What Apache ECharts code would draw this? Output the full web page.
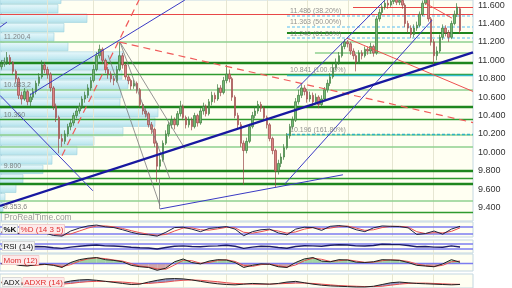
<!DOCTYPE html>
<html><head><meta charset="utf-8">
<script src="https://cdn.jsdelivr.net/npm/echarts@6/dist/echarts.min.js"></script>
<style>html,body{margin:0;padding:0;background:#fff}#c{width:512px;height:288px}</style>
</head><body><div id="c"></div>
<script>
// ---------- price data (daily candles) ----------
const opens = [10930,10960,10980,11030,10980,10880,10800,10620,10580,10660,
 10550,10600,10660,10750,10820,10950,10900,10850,10700,10500,
 10380,10150,10120,10200,10280,10320,10400,10450,10500,10580,
 10620,10700,10780,10900,11050,11120,11000,10900,10850,10800,
 10780,10900,11050,10950,10820,10780,10720,10750,10680,10520,
 10450,10420,10300,10250,10100,9850,9920,10100,10200,10300,
 10350,10300,10420,10500,10380,10300,10350,10280,10400,10320,
 10450,10500,10420,10550,10620,10580,10700,10650,10780,10850,
 10800,10600,10400,10300,10100,10020,10120,10280,10400,10450,
 10520,10480,10380,10300,10150,10020,9800,9880,9950,10050,
 10180,10280,10350,10550,10620,10700,10660,10580,10620,10550,
 10600,10520,10580,10680,10750,10820,10920,10980,11050,11150,
 11200,11180,11100,11050,10980,11080,11050,11120,11100,11150,
 11080,11450,11520,11580,11620,11600,11640,11660,11630,11650,
 11600,11400,11350,11280,11350,11380,11500,11620,11680,11450,
 11200,11050,11100,11250,11350,11300,11250,11400,11500,11560];
const closes = [10960,10980,11030,10980,10880,10800,10620,10580,10660,10550,
 10600,10660,10750,10820,10950,10900,10850,10700,10500,10380,
 10150,10120,10200,10280,10320,10400,10450,10500,10580,10620,
 10700,10780,10900,11050,11120,11000,10900,10850,10800,10780,
 10900,11050,10950,10820,10780,10720,10750,10680,10520,10450,
 10420,10300,10250,10100,9850,9920,10100,10200,10300,10350,
 10300,10420,10500,10380,10300,10350,10280,10400,10320,10450,
 10500,10420,10550,10620,10580,10700,10650,10780,10850,10800,
 10600,10400,10300,10100,10020,10120,10280,10400,10450,10520,
 10480,10380,10300,10150,10020,9800,9880,9950,10050,10180,
 10280,10350,10550,10620,10700,10660,10580,10620,10550,10600,
 10520,10580,10680,10750,10820,10920,10980,11050,11150,11200,
 11180,11100,11050,10980,11080,11050,11120,11100,11150,11080,
 11450,11520,11580,11620,11600,11640,11660,11630,11650,11600,
 11400,11350,11280,11350,11380,11500,11620,11680,11450,11200,
 11050,11100,11250,11350,11300,11250,11400,11500,11580,11322.3];
const lows = [10900,10930,10950,10950,10850,10760,10580,10520,10560,10510,
 10500,10570,10630,10720,10800,10860,10800,10660,10460,10330,
 9990,10060,10090,10170,10240,10290,10370,10420,10470,10540,
 10590,10670,10760,10880,11020,10960,10860,10800,10760,10730,
 10760,10880,10910,10790,10740,10680,10690,10640,10490,10410,
 10380,10270,10200,10060,9680,9800,9900,10080,10170,10260,
 10250,10280,10390,10350,10260,10270,10240,10260,10280,10300,
 10410,10390,10400,10510,10540,10560,10610,10630,10750,10760,
 10560,10370,10250,10060,9650,9990,10100,10260,10370,10420,
 10440,10350,10260,10120,9980,9620,9760,9840,9920,10030,
 10150,10250,10330,10520,10590,10620,10540,10550,10500,10520,
 10480,10500,10560,10650,10720,10800,10890,10950,11030,11120,
 11140,11060,11010,10880,10960,11010,11030,11060,11070,11040,
 11060,11420,11490,11550,11560,11580,11610,11600,11600,11560,
 11360,11300,11240,11250,11320,11360,11480,11600,11420,11160,
 10950,11000,11080,11220,11260,11200,11230,11380,11470,11290];
const highs = [11000,11030,11090,11060,10990,10900,10820,10660,10700,10680,
 10640,10700,10780,10860,11000,10980,10930,10870,10720,10530,
 10400,10200,10240,10310,10360,10430,10490,10540,10610,10660,
 10740,10820,10950,11090,11170,11140,11020,10930,10880,10830,
 10940,11200,11080,10970,10850,10800,10790,10770,10700,10540,
 10480,10440,10330,10270,10120,9980,10130,10240,10330,10400,
 10380,10450,10560,10520,10400,10390,10380,10430,10420,10480,
 10540,10520,10580,10660,10650,10740,10730,10820,10950,10900,
 10820,10620,10430,10330,10130,10160,10310,10440,10500,10560,
 10550,10500,10400,10320,10170,10040,9920,9990,10090,10210,
 10310,10390,10590,10680,10740,10730,10690,10660,10650,10640,
 10620,10620,10710,10790,10860,10960,11020,11090,11190,11230,
 11220,11200,11130,11070,11110,11110,11150,11150,11190,11170,
 11480,11560,11610,11650,11660,11680,11700,11700,11690,11680,
 11620,11430,11380,11390,11420,11530,11650,11720,11700,11470,
 11230,11150,11280,11390,11380,11330,11430,11540,11620,11580];
const lastPrice = 11322.3;
const lastPriceText = '11.322,30';
const priceTicks = [9400,9600,9800,10000,10200,10400,10600,10800,11000,11200,11400,11600];

// ---------- volume by price ----------
const profileStart = 9353.6;
const profileStep = 102.6;
const profileVolumes = [3,5,16,23,43,52,77,94,123,155,158,120,121,128,122,120,123,68,54,64,87,58,61];

// ---------- horizontal levels ----------
const darkLevels = [10978, 10499, 9800, 9659];
const mediumLevels = [10848, 10360, 9724, 9353.6];
const lightLevels = [11200.4, 10683, 10190, 10062, 9473];
const levelLabels = [[11200.4,'11.200,4'],[10683,'10.683,2'],[10360,'10.360'],[9800,'9.800'],[9353.6,'9.353,6']];
const darkPartial = [[99, 11295]];
const lightPartial = [[108.7, 11077]];
const redLevels = [11502];
const redPartial = [[121.9, 11578]];
const fibStart = 99;
const fibDashed = [11486, 11363, 11240];
const fibMain = [10841];
const fibExt = [10196];
const fibLabels = [[11486,'11.486 (38.20%)'],[11363,'11.363 (50.00%)'],[11240,'11.240 (61.80%)'],[10841,'10.841 (100.00%)'],[10196,'10.196 (161.80%)']];

// ---------- drawn trend lines: [candle index, price] ----------
const blueThick = [[[-0.5, 9419], [163.5, 11087]]];
const blueThin = [
  [[9.9, 10625], [63.6, 11655]],
  [[-0.5, 10619], [31.7, 9583]],
  [[55.0, 9386], [118.4, 9757]],
  [[98.3, 9659], [149.3, 11436]],
  [[102.5, 10695], [133.0, 11655]],
  [[-0.5, 11360], [1.9, 11415]]
];
const redDashed = [
  [[41.1, 11197], [163.5, 10324]],
  [[21.0, 9964], [47.7, 11655]]
];
const redSolid = [
  [[119.8, 11240], [163.5, 10662]],
  [[146.9, 11622], [156.2, 11458]]
];
const grayLines = [
  [[41.1, 11197], [58.4, 9714]],
  [[41.1, 11197], [63.6, 10041]],
  [[37.0, 11055], [55.0, 9419]],
  [[54.6, 9714], [54.6, 9386]]
];
const monthStarts = [15.8, 31.7, 47.4, 63, 77.9, 92.1, 106, 120.2, 135.4, 149.6];

// ---------- indicators (one value every 3 candles) ----------
const indStep = 3;
const kVals = [35,30,25,28,35,30,10,5,45,68,85,92,78,72,55,35,20,15,5,35,72,75,60,40,65,72,80,60,8,40,55,60,30,15,60,75,72,50,82,88,80,55,40,70,85,82,80,70,18,25,45,20,60,82.171];
const dVals = [38,33,28,27,30,31,22,12,22,45,68,85,85,78,65,48,32,20,12,18,45,68,70,55,52,62,74,70,35,28,40,55,45,28,38,60,72,62,68,80,84,68,50,55,72,82,82,76,40,25,32,30,42,70];
const rsiVals = [55,52,45,44,50,48,40,35,45,52,58,62,55,54,50,44,40,38,30,42,52,55,50,48,53,55,60,52,35,45,52,50,42,36,50,56,55,52,60,64,62,55,54,58,68,66,65,58,48,50,45,44,55,45.889];
const momVals = [-100,50,-300,-400,-200,-150,-300,-600,100,500,700,800,500,400,200,-300,-500,-600,-1000,-700,200,600,100,-100,300,500,450,100,-600,-300,-100,-150,-500,-600,100,600,800,300,200,500,450,150,100,200,500,450,400,100,-300,-400,-500,-100,500,142];
const momSig = [-50,0,-150,-330,-300,-180,-220,-480,-200,300,600,750,650,450,300,-50,-400,-550,-800,-850,-250,400,350,0,100,400,480,250,-300,-450,-200,-120,-350,-550,-250,350,700,550,250,350,480,300,120,150,350,480,420,250,-100,-350,-450,-300,200,300];
const adxVals = [20,19,17,15,14,13,15,20,25,28,29,27,24,21,18,15,16,22,27,31,32,31,28,24,20,17,15,14,16,18,17,16,18,22,24,20,16,13,11,10,9,8,8,10,15,20,22,20,18,17,16,15,14,15.17];
const adxrVals = [22,21,20,19,17,16,15,16,18,21,23,24,24,23,22,20,18,18,20,22,25,27,28,27,25,23,20,18,17,16,16,16,17,18,19,19,18,16,14,12,11,10,9,9,10,13,16,18,19,19,18,17,16,15.5];

// ---------- build ----------
const XMIN = -0.5, XMAX = 163.5, NCAT = 164;
const cats = Array.from({length: NCAT}, (_, i) => String(i));
const candleData = opens.map((o, i) => [o, closes[i], lows[i], highs[i]]);
const fmtPrice = v => Math.floor(v / 1000) + '.' + String(Math.round(v % 1000)).padStart(3, '0');
const toXY = arr => arr.map((v, k) => [k * indStep, v]);
const hl = (levels) => levels.map(v => ({coords: [[XMIN, v], [XMAX, v]]}));
const hlp = (parts) => parts.map(p => ({coords: [[p[0], p[1]], [XMAX, p[1]]]}));
const segs = (arr) => arr.map(p => ({coords: p}));
const FONT = 'Liberation Sans, Arial, sans-serif';

function lines(data, lineStyle, xi, yi, z) {
  return {type: 'lines', coordinateSystem: 'cartesian2d', xAxisIndex: xi, yAxisIndex: yi,
    polyline: false, silent: true, z: z, data: data, symbol: 'none',
    lineStyle: Object.assign({opacity: 1, curveness: 0}, lineStyle)};
}
function vlines(xi, yi, lo, hi) {
  return lines(monthStarts.map(m => ({coords: [[m, lo], [m, hi]]})), {color: '#e6e6d2', width: 1}, xi, yi, 1);
}
function signFill(vals, base, pos, neg) {
  return (params, api) => {
    const k = params.dataIndex;
    if (k >= vals.length - 1) return null;
    const a = vals[k], b = vals[k + 1];
    const ra = base ? base[k] : 0, rb = base ? base[k + 1] : 0;
    const da = a - ra, db = b - rb;
    const x0 = k * indStep, x1 = (k + 1) * indStep;
    const P = (x, v) => api.coord([x, v]);
    if (da * db >= 0) {
      return {type: 'polygon', shape: {points: [P(x0, a), P(x1, b), P(x1, rb), P(x0, ra)]},
        style: {fill: (da + db) >= 0 ? pos : neg}};
    }
    const t = da / (da - db);
    const xc = x0 + t * (x1 - x0), vc = a + t * (b - a);
    return {type: 'group', children: [
      {type: 'polygon', shape: {points: [P(x0, a), P(xc, vc), P(x0, ra)]}, style: {fill: da > 0 ? pos : neg}},
      {type: 'polygon', shape: {points: [P(xc, vc), P(x1, b), P(x1, rb)]}, style: {fill: db > 0 ? pos : neg}}
    ]};
  };
}
function textPoints(items, x, color, size, xi, yi) {
  return {type: 'scatter', xAxisIndex: xi, yAxisIndex: yi, symbolSize: 0.1, silent: true, z: 6,
    itemStyle: {color: 'transparent'},
    data: items.map(it => ({value: [x, it[0]], name: it[1]})),
    label: {show: true, formatter: '{b}', position: [0, -size - 1], color: color, fontSize: size, fontFamily: FONT}};
}
function valueLabel(v, text, color, bg, border, vAlign) {
  return {silent: true, symbol: 'none', lineStyle: {opacity: 0},
    label: {position: 'end', distance: 4, formatter: text, color: color, backgroundColor: bg,
      borderColor: border, borderWidth: 0.8, padding: [1, 2, 0, 2], fontSize: 9, fontFamily: FONT,
      verticalAlign: vAlign || 'middle'},
    data: [{yAxis: v}]};
}
const richK = {fill: '#111', fontSize: 8, fontFamily: FONT, backgroundColor: '#f5f5f5', borderColor: '#bbb', borderWidth: 0.5, padding: [1, 1, 0, 1]};
const richD = {fill: '#e03030', fontSize: 8, fontFamily: FONT, backgroundColor: '#fdeaea', borderColor: '#e6b0b0', borderWidth: 0.5, padding: [1, 1, 0, 1]};
const richS = {fill: '#fff', fontSize: 8, fontFamily: FONT};

const profileGrad = new echarts.graphic.LinearGradient(0, 0, 0, 1, [
  {offset: 0, color: '#eaf9fc'}, {offset: 1, color: '#b4e3ec'}]);

const gridBase = {left: 0, right: 39, show: true, backgroundColor: '#fffff2', borderColor: '#c3d7e1', borderWidth: 1};
const option = {
  animation: false,
  backgroundColor: '#ffffff',
  grid: [
    Object.assign({top: 0, height: 221}, gridBase),
    Object.assign({top: 222, height: 15}, gridBase),
    Object.assign({top: 240, height: 13}, gridBase),
    Object.assign({top: 254, height: 17}, gridBase),
    Object.assign({top: 274, height: 14}, gridBase)
  ],
  xAxis: [
    {type: 'category', gridIndex: 0, data: cats, show: false, boundaryGap: true},
    {type: 'value', gridIndex: 0, min: XMIN, max: XMAX, show: false},
    {type: 'value', gridIndex: 0, min: 0, max: 473, show: false},
    {type: 'value', gridIndex: 1, min: XMIN, max: XMAX, show: false},
    {type: 'value', gridIndex: 2, min: XMIN, max: XMAX, show: false},
    {type: 'value', gridIndex: 3, min: XMIN, max: XMAX, show: false},
    {type: 'value', gridIndex: 4, min: XMIN, max: XMAX, show: false}
  ],
  yAxis: [
    {type: 'value', gridIndex: 0, position: 'right', min: 9255, max: 11655, scale: true,
      axisLine: {show: true, lineStyle: {color: '#b9d3df'}},
      axisTick: {show: true, customValues: priceTicks, length: 3, lineStyle: {color: '#555'}},
      axisLabel: {customValues: priceTicks, formatter: fmtPrice, color: '#333', fontSize: 9, fontFamily: FONT, margin: 5},
      splitLine: {show: false}},
    {type: 'value', gridIndex: 1, min: -2, max: 116, show: false, splitLine: {show: false}},
    {type: 'value', gridIndex: 2, min: -2, max: 102, show: false, splitLine: {show: false}},
    {type: 'value', gridIndex: 3, min: -1100, max: 1300, show: false, splitLine: {show: false}},
    {type: 'value', gridIndex: 4, min: 5, max: 45, show: false, splitLine: {show: false}}
  ],
  series: [
    // volume profile
    {type: 'custom', xAxisIndex: 2, yAxisIndex: 0, z: 1, silent: true, clip: true,
      data: profileVolumes.map((v, k) => [v, profileStart + k * profileStep, profileStart + (k + 1) * profileStep]),
      encode: {x: 0, y: [1, 2]},
      renderItem: (params, api) => {
        const a = api.coord([0, api.value(2)]), b = api.coord([api.value(0), api.value(1)]);
        return {type: 'rect', shape: {x: a[0], y: a[1] + 0.5, width: b[0] - a[0], height: Math.max(1, b[1] - a[1] - 1)},
          style: {fill: profileGrad, stroke: '#9dd2dd', lineWidth: 0.6}};
      }},
    vlines(1, 0, 9255, 11655),
    lines(hl(lightLevels), {color: '#8fd08f', width: 1.6}, 1, 0, 2),
    lines(hlp(lightPartial), {color: '#8fd08f', width: 1.6}, 1, 0, 2),
    lines(hl(mediumLevels), {color: '#2f9a2f', width: 1.4}, 1, 0, 2),
    lines(hl(darkLevels), {color: '#1e861e', width: 2.3}, 1, 0, 2),
    lines(hlp(darkPartial), {color: '#1e861e', width: 1.8}, 1, 0, 2),
    lines(hl(redLevels), {color: '#e84848', width: 1.2}, 1, 0, 2),
    lines(hlp(redPartial), {color: '#e84848', width: 1.2}, 1, 0, 2),
    lines(fibDashed.map(v => ({coords: [[fibStart, v], [XMAX, v]]})), {color: '#8fd4f2', width: 1.5, type: [3, 2]}, 1, 0, 2),
    lines(fibMain.map(v => ({coords: [[fibStart, v], [XMAX, v]]})), {color: '#33bccb', width: 1.3}, 1, 0, 2),
    lines(fibExt.map(v => ({coords: [[fibStart, v], [XMAX, v]]})), {color: '#2fb3c3', width: 1.4, type: [3, 2]}, 1, 0, 2),
    // candles
    {type: 'candlestick', xAxisIndex: 0, yAxisIndex: 0, z: 3, barWidth: 2, data: candleData,
      itemStyle: {color: '#74bb74', color0: '#dc8484', borderColor: '#3c7a3c', borderColor0: '#9a4848', borderWidth: 0.7},
      markLine: valueLabel(lastPrice, lastPriceText, '#000', '#fbc400', '#c99a00')},
    // trend lines
    lines(segs(grayLines), {color: '#7a7a7a', width: 0.8}, 1, 0, 4),
    lines(segs(redSolid), {color: '#ee5050', width: 1}, 1, 0, 4),
    lines(segs(redDashed), {color: '#f05a5a', width: 1.2, type: [7, 5]}, 1, 0, 4),
    lines(segs(blueThin), {color: '#3a3ac4', width: 1}, 1, 0, 4),
    lines(segs(blueThick), {color: '#1818a0', width: 2.4}, 1, 0, 4),
    textPoints(fibLabels, 100.1, '#777', 7, 1, 0),
    textPoints(levelLabels, 0.8, '#666', 7, 1, 0),

    // %K %D
    vlines(3, 1, -2, 116),
    lines(hl([80, 20]), {color: '#7c7cf0', width: 1.5}, 3, 1, 2),
    {type: 'line', xAxisIndex: 3, yAxisIndex: 1, data: toXY(dVals), symbol: 'none', z: 3, lineStyle: {color: '#e85050', width: 1}},
    {type: 'line', xAxisIndex: 3, yAxisIndex: 1, data: toXY(kVals), symbol: 'none', z: 4, lineStyle: {color: '#222244', width: 1},
      markLine: valueLabel(82.171, '82,171', '#e03030', '#fff4f4', '#e0a0a0', 'top')},
    // RSI
    vlines(4, 2, -2, 102),
    lines(hl([70, 30]), {color: '#7c7cf0', width: 1.5}, 4, 2, 2),
    {type: 'line', xAxisIndex: 4, yAxisIndex: 2, data: toXY(rsiVals), symbol: 'none', z: 4, lineStyle: {color: '#1a1a66', width: 1.3},
      markLine: valueLabel(45.889, '45,889', '#111', '#fafafa', '#aaa')},
    // Momentum
    vlines(5, 3, -1100, 1300),
    {type: 'custom', xAxisIndex: 5, yAxisIndex: 3, z: 2, silent: true, data: toXY(momVals), encode: {x: 0, y: 1},
      renderItem: signFill(momVals, null, '#a2d4a2', '#d2a6a6')},
    lines(hl([0]), {color: '#7c7cf0', width: 1.3}, 5, 3, 3),
    {type: 'line', xAxisIndex: 5, yAxisIndex: 3, data: toXY(momSig), symbol: 'none', z: 4, lineStyle: {color: '#e85050', width: 1}},
    {type: 'line', xAxisIndex: 5, yAxisIndex: 3, data: toXY(momVals), symbol: 'none', z: 5, lineStyle: {color: '#222', width: 1},
      markLine: valueLabel(142, '142', '#e03030', '#fff4f4', '#e0a0a0')},
    // ADX
    vlines(6, 4, 5, 45),
    {type: 'custom', xAxisIndex: 6, yAxisIndex: 4, z: 2, silent: true, data: toXY(adxVals), encode: {x: 0, y: 1},
      renderItem: signFill(adxVals, adxrVals, '#9097c6', '#f2c2c2')},
    {type: 'line', xAxisIndex: 6, yAxisIndex: 4, data: toXY(adxrVals), symbol: 'none', z: 4, lineStyle: {color: '#e85050', width: 1}},
    {type: 'line', xAxisIndex: 6, yAxisIndex: 4, data: toXY(adxVals), symbol: 'none', z: 5, lineStyle: {color: '#222', width: 1},
      markLine: valueLabel(15.17, '15,170', '#111', '#fafafa', '#aaa')}
  ],
  graphic: [
    {type: 'text', left: 4, top: 213, z: 10, style: {text: 'ProRealTime.com', fill: '#9a9a9a', font: '8.5px ' + FONT}},
    {type: 'text', left: 2, top: 224, z: 10, style: {text: '{k|%K}{s| }{d|%D (14 3 5)}', fontSize: 8, fontFamily: FONT,
      rich: {k: Object.assign({}, richK, {fontWeight: 'bold'}), s: richS, d: richD}}},
    {type: 'text', left: 2, top: 241, z: 10, style: {text: '{k|RSI (14)}', fontSize: 8, fontFamily: FONT, rich: {k: richK}}},
    {type: 'text', left: 2, top: 255, z: 10, style: {text: '{d|Mom (12)}', fontSize: 8, fontFamily: FONT, rich: {d: richD}}},
    {type: 'text', left: 2, top: 277, z: 10, style: {text: '{k|ADX}{s| }{d|ADXR (14)}', fontSize: 8, fontFamily: FONT,
      rich: {k: richK, s: richS, d: richD}}}
  ]
};
const chart = echarts.init(document.getElementById('c'), null, {renderer: 'canvas', width: 512, height: 288});
chart.setOption(option);
</script>
</body></html>
